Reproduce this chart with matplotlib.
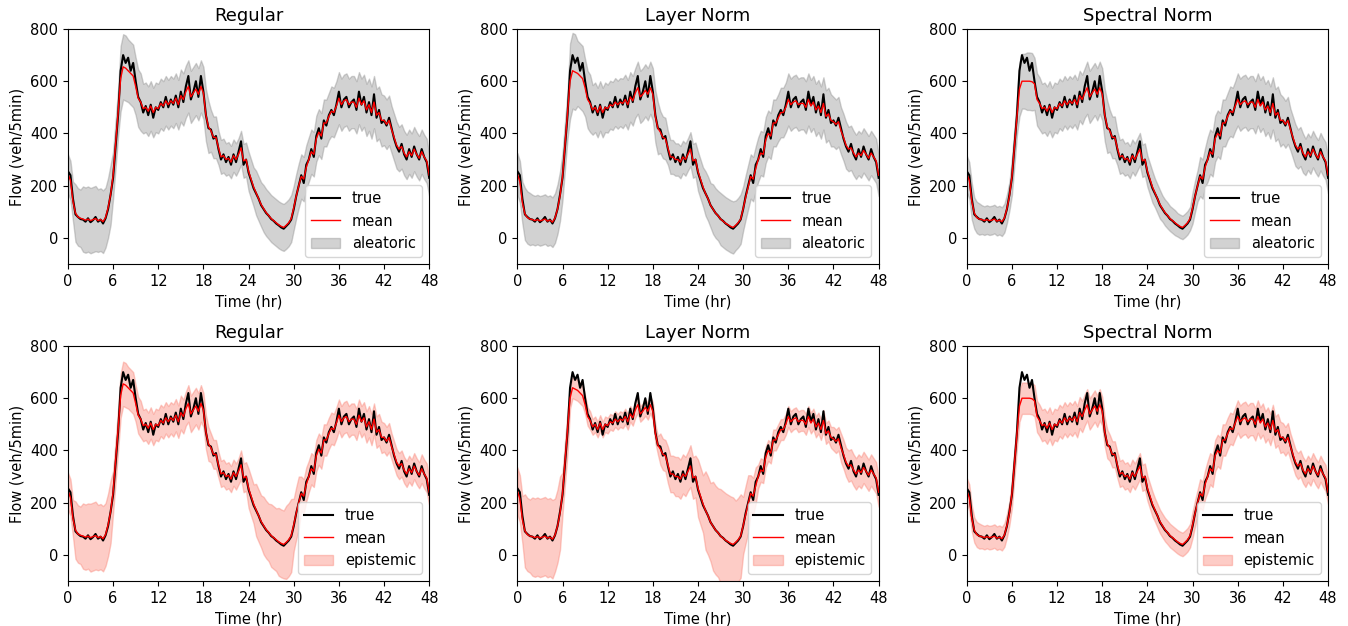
import matplotlib.pyplot as plt
import numpy as np

plt.rcParams['font.size'] = 10.5

# 观测流量, 每20分钟一个点 (0 ~ 48 hr)
true_flow = [
    255, 240, 150,  90, 80, 72,  70, 62, 75,  60, 68, 80,  62, 70, 55,  75, 110, 165,
    230, 350, 470,  640, 700, 670,  690, 640, 670,  600, 540, 520,  480, 505, 470,  510, 460, 500,
    490, 520, 500,  540, 500, 530,  510, 545, 500,  560, 520, 580,  620, 530, 560,  600, 540, 620,
    560, 470, 420,  415, 380, 390,  340, 300, 320,  290, 310, 280,  320, 290, 330,  370, 280, 300,
    250, 220, 190,  170, 150, 125,  110, 95, 85,  72, 65, 55,  48, 40, 35,  45, 55, 70,
    110, 160, 200,  240, 210, 280,  300, 340, 310,  390, 420, 380,  450, 430, 470,  490, 470, 510,
    560, 500, 530,  540, 500, 520,  530, 490, 560,  510, 540, 480,  520, 470, 550,  460, 490, 440,
    450, 430, 460,  420, 380, 350,  330, 360, 320,  300, 340, 310,  350, 320, 300,  340, 310, 290,
    230,
]

mean_regular = [
    245, 220, 140,  95, 80, 75,  72, 68, 72,  66, 70, 74,  66, 70, 62,  78, 115, 165,
    240, 360, 480,  610, 655, 650,  640, 630, 620,  580, 535, 520,  495, 500, 485,  505, 480, 500,
    495, 515, 505,  525, 510, 525,  515, 535, 510,  545, 530, 560,  580, 540, 555,  570, 550, 580,
    555, 470, 425,  410, 385, 385,  345, 310, 315,  300, 305, 290,  315, 300, 320,  345, 295, 300,
    255, 225, 195,  172, 150, 128,  112, 97, 86,  74, 66, 58,  50, 44, 40,  48, 58, 74,
    115, 160, 200,  235, 225, 270,  300, 330, 320,  380, 405, 390,  440, 440, 465,  485, 480, 505,
    535, 510, 525,  530, 510, 520,  520, 500, 535,  510, 525, 490,  510, 480, 520,  470, 480, 450,
    450, 435, 450,  415, 385, 355,  340, 350, 325,  310, 330, 315,  340, 320, 305,  330, 310, 295,
    240,
]

mean_layer = [
    245, 215, 135,  92, 78, 72,  70, 66, 70,  65, 68, 72,  64, 68, 60,  76, 110, 160,
    235, 355, 470,  600, 640, 635,  630, 620, 610,  575, 530, 515,  490, 500, 480,  505, 480, 500,
    495, 510, 505,  520, 510, 520,  515, 530, 510,  540, 525, 555,  575, 540, 550,  565, 550, 575,
    550, 465, 420,  405, 385, 380,  345, 310, 310,  300, 300, 290,  310, 300, 320,  340, 295, 300,
    255, 225, 195,  170, 150, 125,  110, 95, 85,  72, 64, 56,  50, 44, 40,  48, 58, 72,
    112, 155, 195,  235, 225, 265,  300, 325, 320,  375, 400, 390,  440, 440, 460,  480, 480, 500,
    530, 510, 520,  525, 510, 515,  515, 500, 530,  505, 520, 490,  505, 480, 515,  465, 475, 450,
    445, 435, 445,  410, 385, 355,  340, 345, 325,  310, 325, 315,  335, 320, 305,  325, 310, 295,
    240,
]

mean_spectral = [
    245, 220, 140,  95, 78, 72,  70, 66, 70,  66, 68, 72,  64, 68, 62,  76, 112, 160,
    235, 350, 465,  570, 600, 600,  600, 600, 598,  590, 530, 515,  495, 500, 485,  505, 480, 500,
    495, 515, 505,  525, 510, 525,  515, 530, 510,  545, 530, 555,  575, 540, 555,  570, 550, 575,
    550, 470, 425,  410, 385, 385,  345, 310, 315,  300, 305, 290,  315, 300, 320,  340, 295, 300,
    255, 225, 195,  172, 150, 128,  112, 97, 86,  74, 66, 58,  50, 44, 40,  48, 58, 74,
    115, 160, 200,  235, 225, 270,  300, 330, 320,  380, 400, 390,  440, 440, 465,  485, 480, 505,
    530, 510, 520,  525, 510, 520,  520, 500, 530,  505, 520, 490,  505, 480, 515,  470, 480, 450,
    450, 435, 450,  415, 385, 355,  340, 350, 325,  310, 330, 315,  340, 320, 305,  330, 310, 295,
    240,
]

# 不确定性半宽, 每小时一个值 (0 ~ 48 hr)
alea_regular = [75, 110, 125, 125, 120, 115, 90, 125, 120, 110, 95, 95, 95, 95, 95, 100, 100, 100, 100,
                80, 65, 62, 62, 65, 75, 85, 90, 90, 90, 90, 85, 85, 85, 88, 90, 95, 100,
                100, 100, 100, 100, 100, 95, 90, 85, 85, 85, 85, 80]
alea_layer = [80, 100, 95, 95, 95, 95, 90, 145, 125, 110, 95, 95, 92, 92, 95, 95, 100, 100, 100,
              80, 65, 62, 62, 65, 75, 85, 95, 100, 100, 95, 85, 85, 85, 88, 90, 95, 100,
              100, 100, 100, 100, 100, 95, 90, 85, 85, 85, 85, 80]
alea_spectral = [70, 60, 55, 55, 55, 55, 70, 105, 110, 100, 95, 95, 95, 95, 95, 95, 100, 100, 100,
                 80, 65, 62, 62, 62, 60, 55, 50, 48, 45, 45, 60, 75, 85, 88, 90, 95, 100,
                 100, 100, 100, 100, 100, 90, 80, 75, 70, 70, 72, 70]
epis_regular = [70, 110, 125, 130, 125, 120, 80, 85, 80, 70, 60, 60, 60, 60, 62, 65, 70, 70, 65,
                55, 50, 50, 50, 55, 75, 100, 110, 120, 130, 140, 100, 65, 60, 60, 60, 60, 60,
                60, 60, 60, 60, 60, 55, 50, 50, 50, 50, 55, 50]
epis_layer = [90, 140, 150, 150, 150, 140, 80, 40, 40, 35, 30, 30, 30, 30, 30, 30, 30, 32, 35,
              60, 70, 75, 75, 80, 110, 150, 170, 180, 180, 160, 110, 70, 45, 40, 40, 40, 40,
              40, 40, 40, 40, 40, 45, 55, 60, 60, 60, 60, 55]
epis_spectral = [50, 48, 45, 45, 45, 45, 55, 60, 60, 60, 60, 60, 60, 60, 60, 60, 60, 60, 55,
                 50, 50, 50, 50, 50, 48, 45, 45, 45, 45, 45, 50, 55, 60, 60, 60, 60, 62,
                 62, 62, 60, 60, 60, 55, 50, 50, 50, 50, 50, 45]

titles = ['Regular', 'Layer Norm', 'Spectral Norm']
means = [mean_regular, mean_layer, mean_spectral]
aleatoric = [alea_regular, alea_layer, alea_spectral]
epistemic = [epis_regular, epis_layer, epis_spectral]

n = len(true_flow)
t = np.arange(n) / 3.0

fig, axes = plt.subplots(2, 3, figsize=(13.48, 6.26), dpi=100)
plt.subplots_adjust(left=0.0504, right=0.9852, bottom=0.0719, top=0.9537,
                    wspace=0.244, hspace=0.349)

for row in range(2):
    for col in range(3):
        ax = axes[row, col]
        m = np.array(means[col])
        if row == 0:
            w = np.repeat(aleatoric[col], 3)[:n]  # 每小时的半宽用于该小时内的3个点
            band_kw = dict(color='gray', alpha=0.35, label='aleatoric')
        else:
            w = np.repeat(epistemic[col], 3)[:n]
            band_kw = dict(color='salmon', alpha=0.4, label='epistemic')
        ax.plot(t, true_flow, color='black', lw=1.5, label='true')
        ax.plot(t, m, color='red', lw=1, label='mean')
        ax.fill_between(t, m - w, m + w, **band_kw)
        ax.set_xlim(0, 48)
        ax.set_ylim(-100, 800)
        ax.set_xticks(np.arange(0, 49, 6))
        ax.set_title(titles[col], fontsize=13)
        ax.set_xlabel('Time (hr)')
        ax.set_ylabel('Flow (veh/5min)')
        ax.legend(loc='lower right')

plt.savefig('out.png')
